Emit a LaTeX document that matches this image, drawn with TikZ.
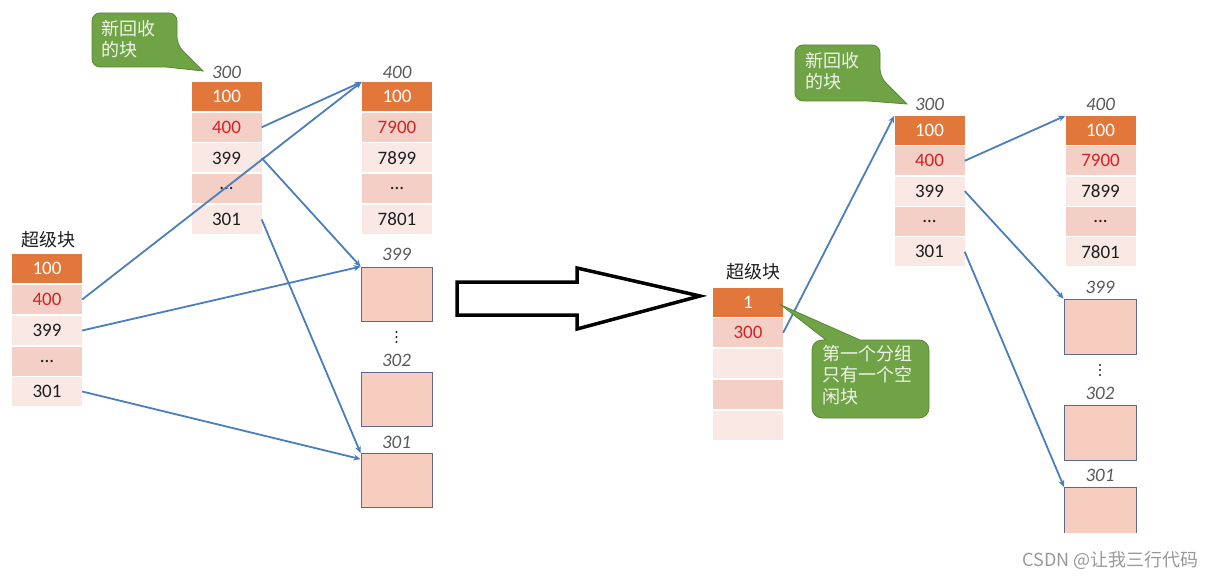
\documentclass[tikz,border=0pt]{standalone}
\usepackage{fontspec}
\setmainfont{Carlito}
\newfontfamily\cjk{Noto Sans CJK SC}
\usetikzlibrary{arrows.meta}
\definecolor{orangeC}{RGB}{226,119,60}
\definecolor{pinkM}{RGB}{243,207,198}
\definecolor{pinkL}{RGB}{250,232,229}
\definecolor{boxfill}{RGB}{247,205,192}
\definecolor{boxedge}{RGB}{90,105,140}
\definecolor{blueA}{RGB}{74,126,188}
\definecolor{redT}{RGB}{210,35,40}
\definecolor{greenC}{RGB}{112,163,70}
\definecolor{greenD}{RGB}{88,135,55}
\definecolor{labelgray}{RGB}{90,90,90}
\definecolor{txtdark}{RGB}{30,30,30}
\definecolor{calloutText}{RGB}{238,244,232}
\begin{document}
\begin{tikzpicture}[x=1pt,y=-1pt,
 cell/.style={rectangle, minimum width=70pt, minimum height=29pt, inner sep=0pt, font=\fontsize{19}{20}\selectfont, text=txtdark},
 hot/.style={cell, fill=orangeC, text=white},
 mid/.style={cell, fill=pinkM},
 lite/.style={cell, fill=pinkL},
 redtxt/.style={text=redT},
 blk/.style={rectangle, minimum width=71pt, minimum height=54pt, inner sep=0pt, fill=boxfill, draw=boxedge, line width=0.8pt},
 lbl/.style={font=\fontsize{19}{20}\selectfont\itshape, text=labelgray, inner sep=0pt},
 title/.style={font=\cjk\fontsize{18}{20}\selectfont, text=txtdark, inner sep=0pt},
 link/.style={draw=blueA, line width=1.8pt, -{Stealth[length=7pt,width=6pt]}},
 callout/.style={fill=greenC, draw=greenD, line width=0.8pt},
 ctext/.style={font=\cjk\fontsize{18}{21.5}\selectfont, text=calloutText, align=left, inner sep=0pt},
 dotmark/.style={fill=txtdark},
]
\useasboundingbox (0,0) rectangle (1212,580);
\fill[white] (0,0) rectangle (1212,580);

% ---------------- Left panel ----------------
\node[title] (lsbt) at (48,240) {超级块};
\node[hot] (ls1) at (47,268.5) {100};
\node[mid, redtxt] (ls2) at (47,299.5) {400};
\node[lite] (ls3) at (47,330.5) {399};
\node[mid] (ls4) at (47,361.5) {...};
\node[lite] (ls5) at (47,391.5) {301};

\node[lbl] (lal) at (226.5,72) {300};
\node[hot] (la1) at (226.5,96.5) {100};
\node[mid, redtxt] (la2) at (226.5,127.25) {400};
\node[lite] (la3) at (226.5,158) {399};
\node[mid] (la4) at (226.5,188.75) {...};
\node[lite] (la5) at (226.5,219.5) {301};

\node[lbl] (lbl) at (397,72) {400};
\node[hot] (lb1) at (397,96.5) {100};
\node[mid, redtxt] (lb2) at (397,127.25) {7900};
\node[lite] (lb3) at (397,158) {7899};
\node[mid] (lb4) at (397,188.75) {...};
\node[lite] (lb5) at (397,219.5) {7801};

\node[lbl] (lx399l) at (396.5,254) {399};
\node[blk] (lx399) at (396.5,294) {};
\foreach \yy in {332,337,342} \fill[dotmark] (396.5,\yy) circle (1.1pt);
\node[lbl] (lx302l) at (396.5,360) {302};
\node[blk] (lx302) at (396.5,399) {};
\node[lbl] (lx301l) at (396.5,442) {301};
\node[blk] (lx301) at (396.5,480.5) {};

\draw[link] (la2.east) -- (lb1.north west);
\draw[link] (ls2.east) -- (lb1.north west);
\draw[link] (la3.east) -- (lx399.north west);
\draw[link] (ls3.east) -- (lx399.north west);
\draw[link] (la5.east) -- (lx301.north west);
\draw[link] (ls5.east) -- ([yshift=-6pt]lx301.north west);

\filldraw[callout] (92,40) [rounded corners=8pt] -- (92,13) -- (177,13) -- (177,45) [sharp corners] -- (203,71) -- (166,67) [rounded corners=8pt] -- (92,67) -- cycle;
\node[ctext, anchor=north west] (lct) at (101,20) {新回收\\的块};

% ---------------- Big arrow ----------------
\draw[line width=3.5pt, line join=miter, fill=white] (457,282) -- (577,282) -- (577,268) -- (700,296) -- (577,329) -- (577,315) -- (457,315) -- cycle;

% ---------------- Right panel ----------------
\node[title] (rsbt) at (753,272) {超级块};
\node[hot] (rs1) at (748,302) {1};
\node[mid, redtxt] (rs2) at (748,332.75) {300};
\node[lite] (rs3) at (748,363.5) {};
\node[mid] (rs4) at (748,394.25) {};
\node[lite] (rs5) at (748,425) {};

\node[lbl] (ral) at (929.5,104) {300};
\node[hot] (ra1) at (929.5,130.5) {100};
\node[mid, redtxt] (ra2) at (929.5,160.8) {400};
\node[lite] (ra3) at (929.5,191.1) {399};
\node[mid] (ra4) at (929.5,221.4) {...};
\node[lite] (ra5) at (929.5,251.7) {301};

\node[lbl] (rbl) at (1100.5,104) {400};
\node[hot] (rb1) at (1100.5,130.5) {100};
\node[mid, redtxt] (rb2) at (1100.5,160.8) {7900};
\node[lite] (rb3) at (1100.5,191.1) {7899};
\node[mid] (rb4) at (1100.5,221.4) {...};
\node[lite] (rb5) at (1100.5,251.7) {7801};

\node[lbl] (rx399l) at (1100,287) {399};
\node[blk, minimum width=72pt, minimum height=55pt] (rx399) at (1100,326.5) {};
\foreach \yy in {365,370,375} \fill[dotmark] (1100,\yy) circle (1.1pt);
\node[lbl] (rx302l) at (1100,393) {302};
\node[blk, minimum width=72pt, minimum height=55pt] (rx302) at (1100,432.5) {};
\node[lbl] (rx301l) at (1100,475) {301};
\fill[boxfill] (1064,487) rectangle (1136,533);
\draw[boxedge, line width=0.8pt] (1064,533) -- (1064,487) -- (1136,487) -- (1136,533);
\coordinate (rx301) at (1064,487);

\draw[link] (rs2.east) -- (ra1.north west);
\draw[link] (ra2.east) -- (rb1.north west);
\draw[link] (ra3.east) -- (rx399.north west);
\draw[link] (ra5.east) -- (rx301);

\filldraw[callout] (795,70) [rounded corners=8pt] -- (795,45) -- (880,45) -- (880,77) [sharp corners] -- (907,104) -- (868,101) [rounded corners=8pt] -- (795,101) -- cycle;
\node[ctext, anchor=north west] (rct) at (805,52) {新回收\\的块};

\filldraw[callout] (812,380) [rounded corners=10pt] -- (812,340) [sharp corners] -- (826,340) -- (781,305) -- (860,340) [rounded corners=10pt] -- (929,340) -- (929,418) -- (812,418) -- cycle;
\node[ctext, anchor=north west] (rct2) at (822,345) {第一个分组\\只有一个空\\闲块};

\node[font=\cjk\fontsize{18}{20}\selectfont, text=black!40, anchor=east, inner sep=0pt] (wm) at (1199,560) {CSDN @让我三行代码};
\end{tikzpicture}
\end{document}
